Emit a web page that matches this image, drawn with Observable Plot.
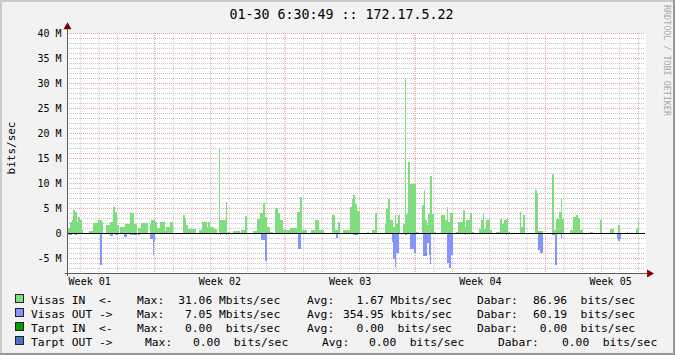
<!DOCTYPE html>
<html><head><meta charset="utf-8">
<script src="https://cdn.jsdelivr.net/npm/d3@7"></script>
<script src="https://cdn.jsdelivr.net/npm/@observablehq/plot@0.6"></script>
<style>
html,body{margin:0;padding:0;background:#f2f2f2;}
#wrap{position:relative;width:675px;height:355px;overflow:hidden;background:#f2f2f2;}
#wrap svg{position:absolute;left:0;top:0;}
.bd{position:absolute;}
</style></head><body><div id="wrap"></div>
<script>
// ---- texts ----
const titleText = "01-30 6:30:49 :: 172.17.5.22";
const yLabel = "bits/sec";
const watermark = "RRDTOOL / TOBI OETIKER";
// ---- axes (x in hours since graph start, y in Mbit/s) ----
const yTicks = [-5, 0, 5, 10, 15, 20, 25, 30, 35, 40];
const weekTicks = [28.6, 196.6, 364.6, 532.6, 700.6];
const weekLabels = ["Week 01", "Week 02", "Week 03", "Week 04", "Week 05"];
const weekGrid = [112.6, 280.6, 448.6, 616.6];
const xDomain = [0, 745.6];
const yDomain = [-8, 40];
// ---- series: [startHour, endHour, Mbit/s] ----
const visasIn = [
[1,4,1.0],[4,7,2.3],[7,8,2.7],[8,10,4.6],[10,13,4.3],[13,14,2.3],[14,17,3.3],[17,19,2.7],[19,21,0.6],
[28,34,0.4],[34,40,2.0],[40,45,2.7],[45,47,2.3],
[50,55,1.6],[55,59,2.3],[59,62,5.3],[62,64,4.3],[64,67,1.6],
[68,75,1.3],[75,81,1.9],[81,83,4.3],[83,86,4.0],[86,90,1.9],
[92,96,1.0],[96,104,2.0],[104,105,0.3],
[107,109,1.9],[109,114,2.7],[114,116,2.3],[116,120,1.0],
[120,126,2.3],[126,128,0.5],[128,133,1.3],[133,137,2.3],
[149,152,3.6],[152,154,3.1],[154,156,1.6],[156,167,0.9],
[170,174,0.6],[174,180,2.3],[180,182,1.3],[182,184,2.3],[184,189,1.3],[189,193,0.9],
[196,198,16.8],[198,205,2.7],[205,207,6.3],[207,210,0.3],
[214,223,0.4],[225,230,0.7],[230,232,3.4],
[240,245,0.4],[245,249,2.9],[249,253,4.0],[253,255,6.0],[255,258,3.3],[258,262,1.3],[262,266,0.3],
[268,272,5.0],[272,275,4.0],[275,279,2.6],[279,288,0.6],[288,297,1.0],
[297,301,4.3],[301,303,7.3],[303,309,0.6],
[315,320,0.6],[320,325,2.6],[325,331,0.6],
[342,346,3.6],[346,350,0.6],[350,352,2.3],[356,365,0.6],
[365,367,5.2],[367,369,6.9],[369,372,7.6],[372,374,5.9],[374,378,4.4],
[387,389,0.3],[393,397,0.6],[397,400,4.1],
[410,412,1.9],[412,414,4.9],[414,417,6.9],[417,421,2.6],[421,423,1.3],
[423,425,3.6],[425,427,1.9],[427,430,3.6],
[434,435.5,1.9],[435.5,437,31.06],[437,440,3.9],[440,443,14.3],[443,447,9.9],[447,450,9.9],[450,454,0.3],
[458,460,5.6],[460,462,8.6],[462,464,2.6],[464,466,1.6],[466,468,3.9],[468,471,11.4],[471,473,3.9],[473,476,0.3],
[483,488,3.6],[488,490,2.6],[490,492,5.3],[492,494,2.3],[494,498,4.0],
[502,505,0.3],[505,511,2.3],[511,513,4.6],[513,515,1.3],[515,520,2.6],[520,522,4.0],[522,525,0.3],
[531,534,0.9],[534,537,2.6],[537,538,4.1],[538,541,0.9],[541,544,2.6],[544,546,2.9],[546,548,0.6],
[553,559,0.3],[559,561,2.9],[561,564,1.9],[564,566,2.6],[566,569,2.9],[569,571,0.3],
[584,586,4.3],[586,588,1.3],[588,591,3.6],
[604,606,8.6],[606,608,7.9],[608,614,0.5],
[625,628,11.8],[628,631,0.6],[631,635,2.9],[635,637,4.3],[637,639,6.9],[639,641,2.9],
[649,653,0.6],[653,657,3.3],[657,659,3.6],[659,662,3.0],[662,666,0.6],
[675,679,0.3],[688,690,2.6],[700,705,0.9],[711,713,1.6],[722,724,0.3],[734,737,0.9],[737,738,2.9]
];
const visasOut = [
[2,6,0.4],[10,13,0.4],[42.5,45,6.4],[55,59,0.5],[62,66,0.4],[73,77,0.7],[81,90,0.4],[92,94,0.4],
[107,111,1.2],[111,112.5,4.4],[112.5,114,1.5],
[197,199,0.4],[205,207,0.4],
[250,252,1.3],[252,255,1.4],[255,258,5.5],
[298,302,3.2],[347,349,0.9],[369,375,0.4],
[419,421,1.7],[421,423,5.2],[423,425,6.7],[425,428,3.9],
[436,438,0.4],[443,447,3.2],[447,450,3.9],
[459,464,4.5],[464,467,1.9],[467,468,4.4],[468,470,6.1],
[490,493,5.9],[493,495,7.05],[495,498,4.3],
[513,515,0.4],[566,568,0.4],
[607,610,3.4],[610,614,3.9],
[626,630,0.4],[630,632,6.3],[637,639,1.2],
[710,711,1.1],[711,713,1.5],[713,714,1.1]
];
// ---- legend ----
const seriesNames = ["Visas IN  <-", "Visas OUT ->", "Tarpt IN  <-", "Tarpt OUT ->"];
const seriesColors = ["#7fdc7f", "#8494ff", "#00a000", "#5070c8"];
const maxVals = [31.06e6, 7.05e6, 0, 0];
const avgVals = [1.67e6, 354.95e3, 0, 0];
const curVals = [86.96, 60.19, 0, 0];

function fmtVal(v){
  let p = " ", s = v;
  if (v >= 1e6) { p = "M"; s = v / 1e6; } else if (v >= 1e3) { p = "k"; s = v / 1e3; }
  return s.toFixed(2).padStart(6, " ") + " " + p + "bits/sec";
}

const gridGrey = "#c6c6c6", gridRed = "#eaa2a2", axisCol = "#5a5a5a", arrowCol = "#800000";
const minorY = d3.range(yDomain[0], yDomain[1] + 1, 1);
const dayGrid = d3.range(weekGrid[0] - 96, xDomain[1], 24).filter(d => d > 0);

const chart = Plot.plot({
  width: 675, height: 355,
  marginLeft: 67, marginRight: 30, marginTop: 33, marginBottom: 82,
  x: {domain: xDomain, axis: null},
  y: {domain: yDomain, axis: null},
  style: {background: "transparent", fontFamily: "'DejaVu Sans Mono', monospace", fontSize: "10px", color: "black", overflow: "visible"},
  marks: [
    Plot.frame({fill: "white", stroke: "none"}),
    Plot.ruleY(minorY, {stroke: gridGrey, strokeDasharray: "1,1"}),
    Plot.ruleX(dayGrid, {stroke: gridGrey, strokeDasharray: "1,1"}),
    Plot.ruleY(yTicks, {stroke: gridRed, strokeDasharray: "1,1"}),
    Plot.ruleX(weekGrid, {stroke: gridRed, strokeDasharray: "1,1"}),
    Plot.rect(visasIn, {x1: d => d[0], x2: d => d[1], y1: () => 0, y2: d => d[2], fill: seriesColors[0], shapeRendering: "crispEdges"}),
    Plot.rect(visasOut, {x1: d => d[0], x2: d => d[1], y1: () => 0, y2: d => -d[2], fill: seriesColors[1], shapeRendering: "crispEdges"}),
    Plot.ruleY([0], {stroke: "black"}),
    Plot.axisY(yTicks, {tickSize: 0, tickPadding: 6, fontSize: 10, tickFormat: d => d === 0 ? "0" : d + " M"}),
    Plot.axisX(weekTicks, {tickSize: 0, tickPadding: 4, fontSize: 10, tickFormat: d => weekLabels[weekTicks.indexOf(d)]}),
    Plot.ruleX([xDomain[0]], {y1: () => yDomain[0] - 0.6, y2: () => yDomain[1] + 1.2, stroke: axisCol}),
    Plot.ruleY([yDomain[0]], {x1: () => xDomain[0] - 3, x2: () => xDomain[1] + 3, stroke: axisCol}),
    Plot.dot([0], {x: () => xDomain[0], y: () => yDomain[1] + 1.3, symbol: "triangle", r: 3, fill: arrowCol, stroke: "none"}),
    Plot.dot([0], {x: () => xDomain[1] + 5, y: () => yDomain[0], symbol: "triangle", r: 3, rotate: 90, fill: arrowCol, stroke: "none"})
  ]
});
const wrap = document.getElementById("wrap");
wrap.appendChild(chart);

const svg = d3.select(chart);
const mono = "'DejaVu Sans Mono', monospace";
svg.append("text").attr("x", 341.5).attr("y", 18.5).attr("text-anchor", "middle")
  .style("font-family", mono).style("font-size", "13.3px").attr("fill", "black").text(titleText);
svg.append("text").attr("transform", "translate(14.5,148) rotate(-90)").attr("text-anchor", "middle")
  .style("font-family", mono).style("font-size", "11px").attr("fill", "black").text(yLabel);
svg.append("text").attr("transform", "translate(663.5,5) rotate(90)").attr("text-anchor", "start")
  .style("font-family", mono).style("font-size", "8.4px").attr("fill", "#a8a8a8").text(watermark);

// legend rows
const rowX = [
  {max: 137, maxV: 171.4, avg: 307, avgV: 343, cur: 477, curV: 526.2},
  {max: 137, maxV: 171.4, avg: 307, avgV: 343, cur: 477, curV: 526.2},
  {max: 137, maxV: 171.4, avg: 307, avgV: 343, cur: 477, curV: 526.2},
  {max: 145, maxV: 179.4, avg: 322, avgV: 355.4, cur: 498, curV: 548.4}
];
seriesNames.forEach((name, i) => {
  const by = 303.5 + 14 * i;
  const g = svg.append("g").attr("text-anchor", "start").style("font-family", mono).style("font-size", "11.3px").attr("fill", "black");
  g.append("rect").attr("x", 15.5).attr("y", by - 9).attr("width", 8).attr("height", 8)
    .attr("fill", seriesColors[i]).attr("stroke", "#222").attr("stroke-width", 1);
  const items = [
    [31, name], [rowX[i].max, "Max:"], [rowX[i].maxV, fmtVal(maxVals[i])],
    [rowX[i].avg, "Avg:"], [rowX[i].avgV, fmtVal(avgVals[i])],
    [rowX[i].cur, "Dabar:"], [rowX[i].curV, fmtVal(curVals[i])]
  ];
  items.forEach(([x, t]) => g.append("text").attr("x", x).attr("y", by).attr("text-anchor", "start")
    .attr("xml:space", "preserve").style("white-space", "pre").text(t));
});

// 3D frame borders
[["0px","0px","675px","2px","#cbcbcb"],["0px","0px","2px","355px","#cbcbcb"],
 ["0px","353px","675px","2px","#999999"],["673px","0px","2px","355px","#999999"]].forEach(([l,t,w,h,c]) => {
  const d = document.createElement("div"); d.className = "bd";
  Object.assign(d.style, {left: l, top: t, width: w, height: h, background: c});
  wrap.appendChild(d);
});
</script></body></html>
